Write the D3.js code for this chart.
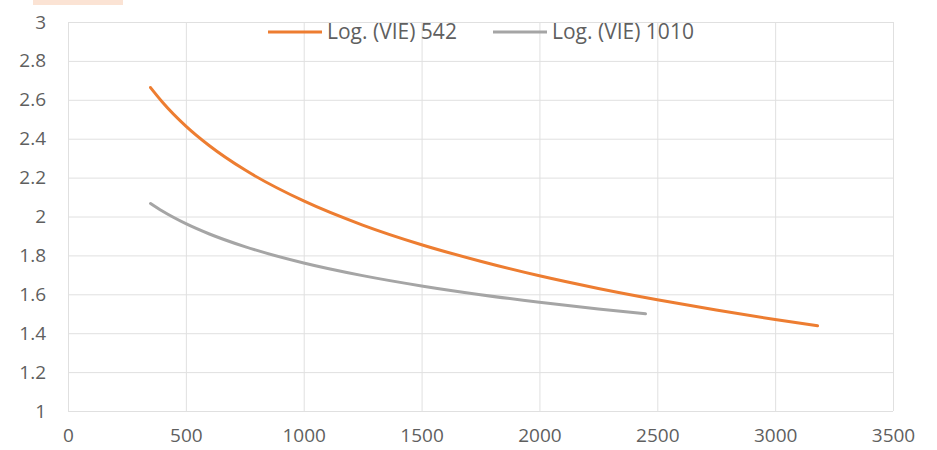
<!DOCTYPE html>
<html>
<head>
<meta charset="utf-8">
<script src="https://cdn.jsdelivr.net/npm/d3@7"></script>
<style>
  body { margin: 0; background: #fff; }
  .tick text { font-family: "Open Sans", sans-serif; font-size: 19px; fill: #5f5f5f; }
  .legend text { font-family: "Open Sans", sans-serif; font-size: 21px; fill: #5f5f5f; }
</style>
</head>
<body>
<div id="chart"></div>
<script>
var svgWidth = 937;
var svgHeight = 450;

var margin = { top: 22, right: 44, bottom: 39, left: 68 };

var width = svgWidth - margin.left - margin.right;
var height = svgHeight - margin.top - margin.bottom;

// values
var seriesNames = ["Log. (VIE) 542", "Log. (VIE) 1010"];
var x542 = [350, 400, 500, 600, 750, 1000, 1250, 1500, 1750, 2000, 2250, 2500, 2750, 3000, 3180];
var y542 = [2.663, 2.589, 2.465, 2.364, 2.240, 2.080, 1.956, 1.855, 1.770, 1.695, 1.630, 1.572, 1.519, 1.470, 1.438];
var x1010 = [350, 400, 500, 600, 750, 1000, 1250, 1500, 1750, 2000, 2250, 2450];
var y1010 = [2.067, 2.028, 1.963, 1.910, 1.845, 1.761, 1.696, 1.643, 1.598, 1.559, 1.524, 1.500];
var xTicks = [0, 500, 1000, 1500, 2000, 2500, 3000, 3500];
var yTicks = [1, 1.2, 1.4, 1.6, 1.8, 2, 2.2, 2.4, 2.6, 2.8, 3];
var colors = ["#ED7D31", "#A5A5A5"];

var svg = d3.select("#chart")
  .append("svg")
  .attr("width", svgWidth)
  .attr("height", svgHeight);

// leftover highlight at the top-left corner
svg.append("rect")
  .attr("x", 33).attr("y", 0)
  .attr("width", 90).attr("height", 5)
  .attr("fill", "#fbe3d4");

var chartGroup = svg.append("g")
  .attr("transform", `translate(${margin.left}, ${margin.top})`);

var xScale = d3.scaleLinear().domain([0, 3500]).range([0, width]);
var yScale = d3.scaleLinear().domain([1, 3]).range([height, 0]);

// gridlines
chartGroup.append("g")
  .selectAll("line.v")
  .data(xTicks)
  .enter()
  .append("line")
  .attr("x1", d => xScale(d) + 0.5).attr("x2", d => xScale(d) + 0.5)
  .attr("y1", 0).attr("y2", height)
  .attr("stroke", "#e0e0e0");

chartGroup.append("g")
  .selectAll("line.h")
  .data(yTicks)
  .enter()
  .append("line")
  .attr("x1", 0).attr("x2", width)
  .attr("y1", d => yScale(d) + 0.5).attr("y2", d => yScale(d) + 0.5)
  .attr("stroke", "#e0e0e0");

var bottomAxis = d3.axisBottom(xScale).tickValues(xTicks).tickSize(0).tickPadding(18)
  .tickFormat(d3.format("d"));
var leftAxis = d3.axisLeft(yScale).tickValues(yTicks).tickSize(0).tickPadding(22)
  .tickFormat(d3.format("~g"));

chartGroup.append("g")
  .attr("transform", `translate(0, ${height})`)
  .call(bottomAxis)
  .call(g => g.select(".domain").remove());

chartGroup.append("g")
  .call(leftAxis)
  .call(g => g.select(".domain").remove());

var line = d3.line()
  .x(d => xScale(d[0]))
  .y(d => yScale(d[1]))
  .curve(d3.curveMonotoneX);

var series = [
  d3.zip(x542, y542),
  d3.zip(x1010, y1010)
];

chartGroup.selectAll("path.trend")
  .data(series)
  .enter()
  .append("path")
  .attr("class", "trend")
  .attr("fill", "none")
  .attr("stroke", (d, i) => colors[i])
  .attr("stroke-width", 3)
  .attr("stroke-linecap", "round")
  .attr("d", line);

// legend
var legend = svg.append("g").attr("class", "legend");
var legendX = [268, 493];

var items = legend.selectAll("g")
  .data(seriesNames)
  .enter()
  .append("g")
  .attr("transform", (d, i) => `translate(${legendX[i]}, 32)`);

items.append("line")
  .attr("x1", 0).attr("x2", 54)
  .attr("stroke", (d, i) => colors[i])
  .attr("stroke-width", 3);

items.append("text")
  .attr("x", 59)
  .attr("dy", "0.33em")
  .text(d => d);
</script>
</body>
</html>
